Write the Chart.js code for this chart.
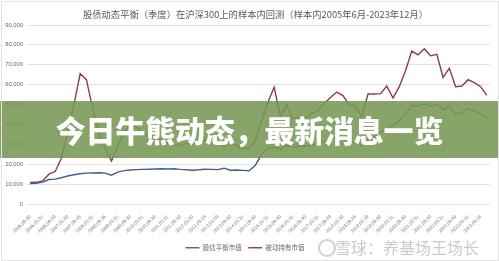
<!DOCTYPE html>
<html>
<head>
<meta charset="utf-8">
<script src="https://cdn.jsdelivr.net/npm/chart.js@4.4.1/dist/chart.umd.min.js"></script>
<style>
  html, body { margin: 0; padding: 0; background: #fff; }
  #wrap { position: relative; width: 499px; height: 261px; overflow: hidden; }
  #frame { position: absolute; left: 1px; top: 1px; width: 496px; height: 258px; border: 1px solid #e3e3e3; pointer-events: none; }
  #title {
    position: absolute; left: 0; top: 8px; width: 511px; text-align: center;
    color: #5a5a5a; font-family: "Noto Sans CJK SC", sans-serif; font-size: 9.3px; line-height: 12px;
    white-space: nowrap;
  }
  #banner {
    position: absolute; left: 0; top: 101px; width: 499px; height: 57px;
    background: rgba(118, 152, 84, 0.88);
    color: #fff; font-family: "Noto Sans CJK SC", sans-serif; font-weight: 900;
    font-size: 30px; line-height: 57px; text-align: center; letter-spacing: -0.2px;
  }
  #mark {
    position: absolute; left: 335px; top: 237px;
    color: rgba(160, 160, 160, 0.55); font-family: "Noto Sans CJK SC", sans-serif;
    font-size: 16px; line-height: 20px; white-space: nowrap;
  }
  #logo {
    position: absolute; left: 318px; top: 239px; width: 14px; height: 14px;
    border-radius: 50%; border: 2px solid rgba(150, 150, 150, 0.45);
  }
</style>
</head>
<body>
<div id="wrap">
  <canvas id="bieudo" width="499" height="261"></canvas>
  <div id="title">股债动态平衡（季度）在沪深300上的样本内回测（样本内2005年6月-2023年12月）</div>
  <div id="banner">今日牛熊动态，最新消息一览</div>
  <div id="logo"></div>
  <div id="mark">雪球：养基场王场长</div>
  <div id="frame"></div>
</div>
<script>
// quarter-end dates (every other one is shown on the axis)
const dates = [
  '2005.06.30', '2005.12.30', '2006.03.31', '2006.06.30', '2006.09.29', '2006.12.29',
  '2007.03.30', '2007.06.29', '2007.09.28', '2007.12.28', '2008.03.31', '2008.06.30',
  '2008.09.26', '2008.12.31', '2009.03.31', '2009.06.30', '2009.09.30', '2009.12.31',
  '2010.03.31', '2010.06.30', '2010.09.30', '2010.12.31', '2011.03.31', '2011.06.30',
  '2011.09.30', '2011.12.30', '2012.03.30', '2012.06.29', '2012.09.28', '2012.12.31',
  '2013.03.29', '2013.06.28', '2013.09.30', '2013.12.31', '2014.03.31', '2014.06.30',
  '2014.09.30', '2014.12.31', '2015.03.31', '2015.06.30', '2015.09.30', '2015.12.31',
  '2016.03.31', '2016.06.30', '2016.09.30', '2016.12.30', '2017.03.31', '2017.06.30',
  '2017.09.29', '2017.12.29', '2018.03.30', '2018.06.29', '2018.09.28', '2018.12.28',
  '2019.03.29', '2019.06.28', '2019.09.30', '2019.12.31', '2020.03.31', '2020.06.30',
  '2020.09.30', '2020.12.31', '2021.03.31', '2021.06.30', '2021.09.30', '2021.12.31',
  '2022.03.31', '2022.06.30', '2022.09.30', '2022.12.30', '2023.03.31', '2023.06.30',
  '2023.09.28', '2023.12.29'
];

// 股债平衡市值
const balanceValue = [
  10300, 10400, 11000, 12300, 12500, 13200, 14100, 14700, 15200, 15500,
  15600, 15700, 15500, 14500, 16000, 16800, 17100, 17300, 17400, 17500,
  17600, 17700, 17600, 17700, 17400, 17200, 17000, 17200, 17500, 17400,
  17300, 18000, 17000, 17100, 16900, 16700, 19500, 25000, 28000, 28500,
  27500, 29500, 28500, 29000, 29000, 29500, 30500, 31500, 32500, 33500,
  32500, 31500, 31000, 29500, 32000, 34000, 36000, 37500, 39500, 42000,
  45500, 49300, 49300, 50300, 49300, 50000, 47200, 49300, 45300, 46000,
  48000, 46800, 45500, 42700
];

// 被动持有市值
const holdValue = [
  10800, 10900, 11600, 15000, 16300, 23000, 36000, 50000, 65500, 62500,
  48000, 35000, 28000, 21600, 29000, 36000, 40000, 38500, 36000, 33500,
  34000, 32000, 30500, 29500, 29500, 30700, 29900, 30300, 32000, 33200,
  31000, 29000, 31500, 29500, 27900, 28000, 32000, 42000, 51000, 58800,
  44000, 49700, 43000, 43500, 43400, 45500, 47000, 50500, 53500, 56300,
  54500, 50000, 49000, 44000, 55300, 55300, 55500, 59300, 53300, 59000,
  67000, 76900, 75000, 78000, 74500, 75200, 63700, 68200, 59000, 59300,
  62500, 61000, 59000, 54600
];

const seriesNames = ['股债平衡市值', '被动持有市值'];
const yMax = 90000;
const yStep = 10000;

const ctx = document.getElementById('bieudo').getContext('2d');
new Chart(ctx, {
  type: 'line',
  data: {
    labels: dates,
    datasets: [{
      label: seriesNames[0],
      data: balanceValue,
      borderColor: '#44608f',
      backgroundColor: '#44608f',
      borderWidth: 1.4,
      pointRadius: 0,
      tension: 0
    }, {
      label: seriesNames[1],
      data: holdValue,
      borderColor: '#8e3b4b',
      backgroundColor: '#8e3b4b',
      borderWidth: 1.4,
      pointRadius: 0,
      tension: 0
    }]
  },
  options: {
    responsive: false,
    animation: false,
    layout: { padding: { left: 0, right: 9, top: 25, bottom: 0 } },
    plugins: {
      tooltip: { enabled: false },
      title: { display: false },
      legend: {
        position: 'bottom',
        labels: {
          usePointStyle: true,
          pointStyle: 'line',
          pointStyleWidth: 14,
          color: '#666',
          font: { family: '"Noto Sans CJK SC", sans-serif', size: 6.5 },
          padding: 6.5
        }
      }
    },
    scales: {
      x: {
        offset: true,
        afterFit: s => { s.height = 34; },
        grid: { display: false },
        border: { display: false },
        ticks: {
          autoSkip: false,
          minRotation: 45,
          maxRotation: 45,
          padding: 2,
          color: '#777',
          font: { family: 'Liberation Sans, sans-serif', size: 4.6 },
          callback: (v, i) => (i % 2 === 0 ? dates[i] : '')
        }
      },
      y: {
        min: 0,
        max: yMax,
        afterFit: s => { s.width = 27; },
        grid: { color: '#e2e2e2', lineWidth: 1, drawTicks: false },
        border: { display: false },
        ticks: {
          stepSize: yStep,
          padding: 4,
          color: '#666',
          font: { family: 'Liberation Sans, sans-serif', size: 5.8 }
        }
      }
    }
  }
});
</script>
</body>
</html>
